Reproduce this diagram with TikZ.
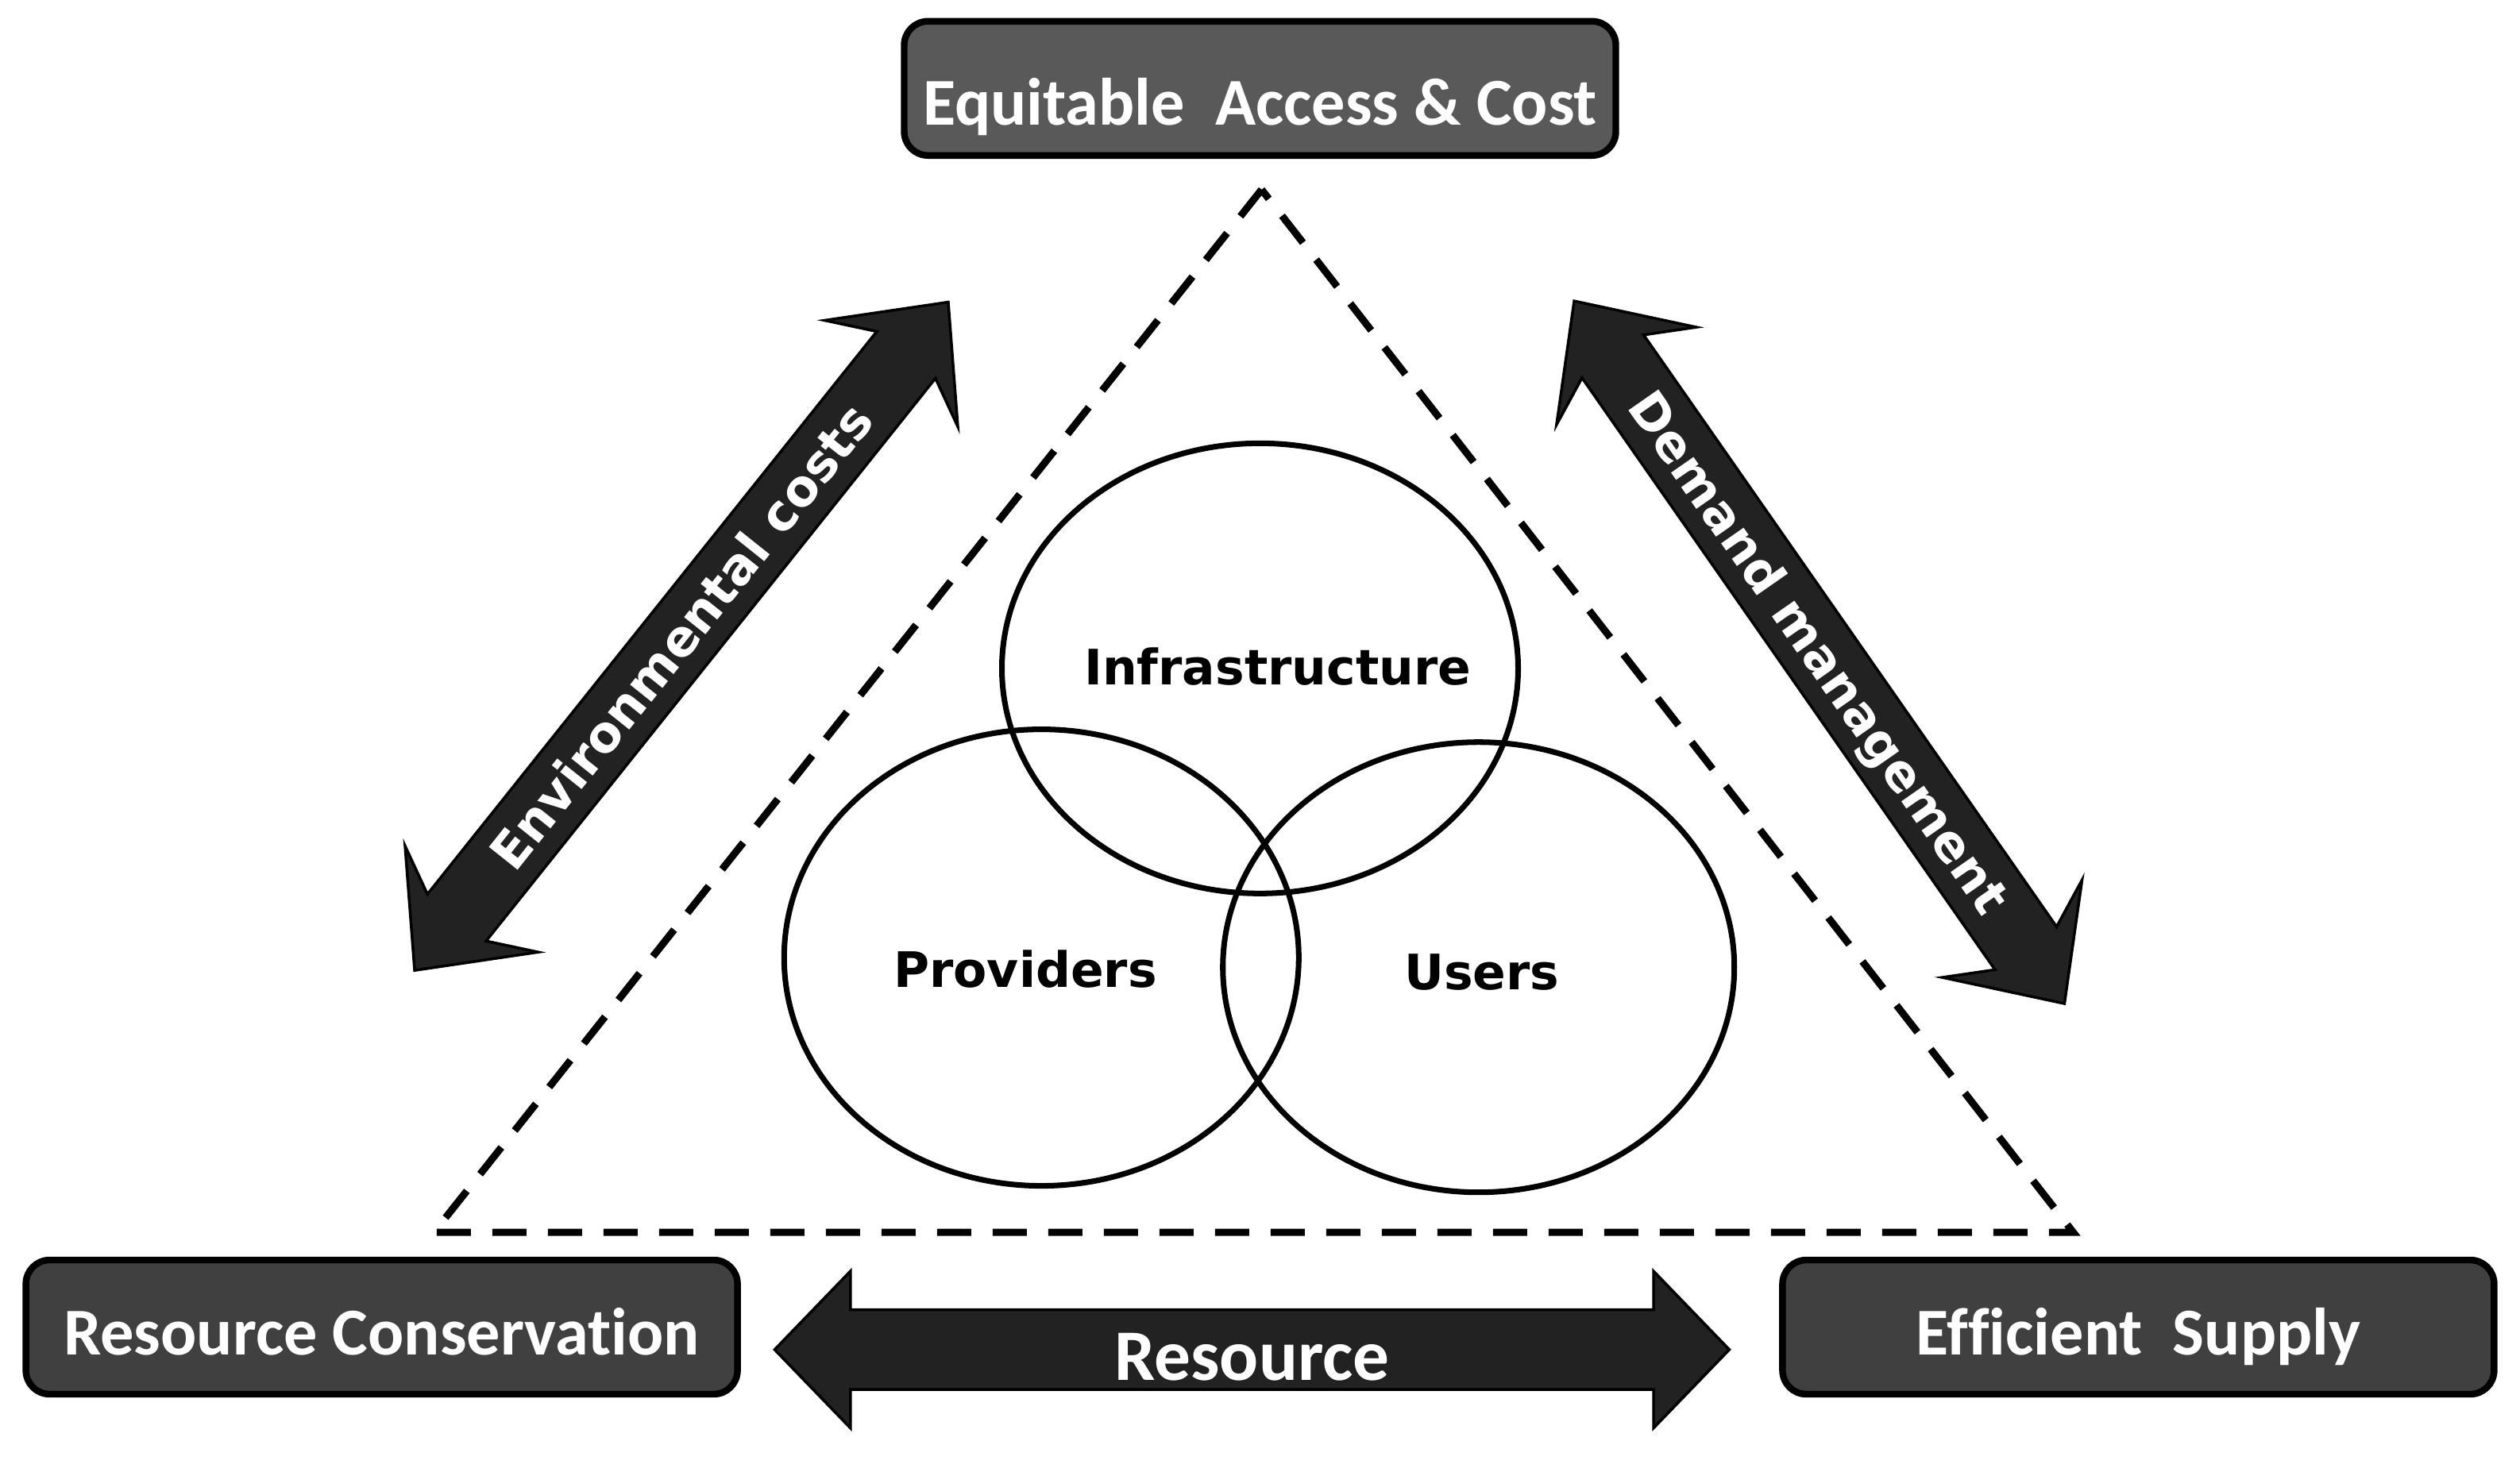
\documentclass[tikz,border=0pt]{standalone}
\usepackage{fontspec}
\setmainfont{Carlito}[Ligatures=NoCommon]
\newfontfamily\ringfont{DejaVu Sans}
\usetikzlibrary{shapes}
\usetikzlibrary{positioning}

\definecolor{topgray}{HTML}{595959}
\definecolor{boxgray}{HTML}{404040}
\definecolor{arrowgray}{HTML}{222222}

\begin{document}
\begin{tikzpicture}[x=0.20236mm, y=-0.20236mm,
        goal/.style={draw=black, line width=2.4pt, rounded corners=3mm, text=white,
            minimum width=8.96cm, minimum height=1.69cm, text height=0.85cm, text depth=0.15cm,
            font=\fontsize{24}{28}\selectfont\bfseries},
        ring/.style={draw, ellipse, line width=2pt, inner sep=0pt},
        ringlabel/.style={font=\ringfont\fontsize{17.5}{20}\selectfont\bfseries},
        bigarrow/.style={double arrow, draw=black, line width=1pt, fill=arrowgray, text=white,
            inner sep=0pt, font=\ringfont\fontsize{18}{20}\selectfont\bfseries,
            text height=0.685cm, text depth=0.225cm, double arrow head extend=0.6cm,
            double arrow tip angle=86, double arrow head indent=0.3cm}]
    \useasboundingbox (0,0) rectangle (1568,916);

    % the three goals
    \node[goal, fill=topgray, text height=0.96cm, text depth=0.04cm] (equity) at (784,55) {Equitable\ \ Access \& Cost};
    \node[goal, fill=boxgray] (conserve) at (237.5,826) {Resource Conservation};
    \node[goal, fill=boxgray] (supply) at (1330.5,826) {Efficient\ \ Supply};

    % dashed triangle
    \coordinate (apex) at (785,118);
    \coordinate (leftcorner) at (270,767);
    \coordinate (rightcorner) at (1290,767);
    \draw[line width=2.6pt, dash pattern=on 4.3mm off 2.7mm] (apex) -- (leftcorner) -- (rightcorner) -- cycle;

    % stakeholders
    \node[ring, minimum width=6.5cm, minimum height=5.67cm] (infra) at (784,416) {};
    \node[ring, minimum width=6.48cm, minimum height=5.75cm] (prov) at (648,596) {};
    \node[ring, minimum width=6.44cm, minimum height=5.67cm] (users) at (920,602) {};
    \node[ringlabel] (infratext) at (795,415) {Infrastructure};
    \node[ringlabel] (provtext) at (638,603) {Providers};
    \node[ringlabel] (userstext) at (922,605) {Users};

    % trade-offs
    \node[bigarrow, rotate=51.4, minimum height=10.77cm] (envcost) at (424,396) {Environmental costs};
    \node[bigarrow, rotate=-55.1, minimum height=10.79cm] (demand) at (1132,406) {Demand management};
    \node[bigarrow, minimum height=12.02cm, font=\fontsize{26}{28}\selectfont\bfseries,
        text height=0.87cm, text depth=0.1cm, double arrow head extend=0.485cm,
        double arrow tip angle=92, double arrow head indent=0cm] (resource) at (779,840) {Resource};
\end{tikzpicture}
\end{document}
